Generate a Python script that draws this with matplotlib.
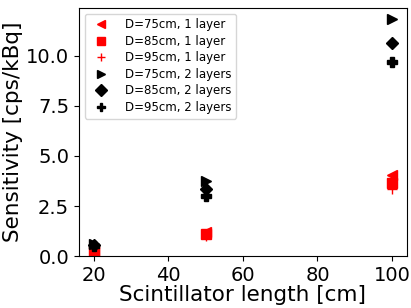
import matplotlib
matplotlib.use("Agg")
import matplotlib.pyplot as plt

# Scintillator lengths [cm]
lengths = [20, 50, 100]

# Sensitivity [cps/kBq]
d75_1 = [0.25, 1.22, 4.05]
d85_1 = [0.20, 1.10, 3.65]
d95_1 = [0.15, 1.02, 3.35]
d75_2 = [0.62, 3.76, 11.80]
d85_2 = [0.55, 3.35, 10.62]
d95_2 = [0.50, 3.00, 9.67]

fig, ax = plt.subplots(figsize=(4.11, 3.08), dpi=100)
ms = 6.5
ax.plot(lengths, d75_1, '<', color='red', markersize=ms, label='D=75cm, 1 layer')
ax.plot(lengths, d85_1, 's', color='red', markersize=ms, label='D=85cm, 1 layer')
ax.plot(lengths, d95_1, '+', color='red', markersize=ms, label='D=95cm, 1 layer')
ax.plot(lengths, d75_2, '>', color='black', markersize=ms, label='D=75cm, 2 layers')
ax.plot(lengths, d85_2, 'D', color='black', markersize=ms, label='D=85cm, 2 layers')
ax.plot(lengths, d95_2, 'P', color='black', markersize=ms, label='D=95cm, 2 layers')

ax.set_ylim(bottom=0)
ax.set_xlabel('Scintillator length [cm]', fontsize=15.5, labelpad=0)
ax.set_ylabel('Sensitivity [cps/kBq]', fontsize=15.5, labelpad=2)
ax.tick_params(labelsize=14)
ax.legend(fontsize=8.5, loc='upper left', markerscale=0.9, labelspacing=0.3,
          handletextpad=1.0, borderpad=0.4)

fig.subplots_adjust(left=0.192, right=0.99, top=0.975, bottom=0.168)
fig.savefig('out.png', dpi=100)
